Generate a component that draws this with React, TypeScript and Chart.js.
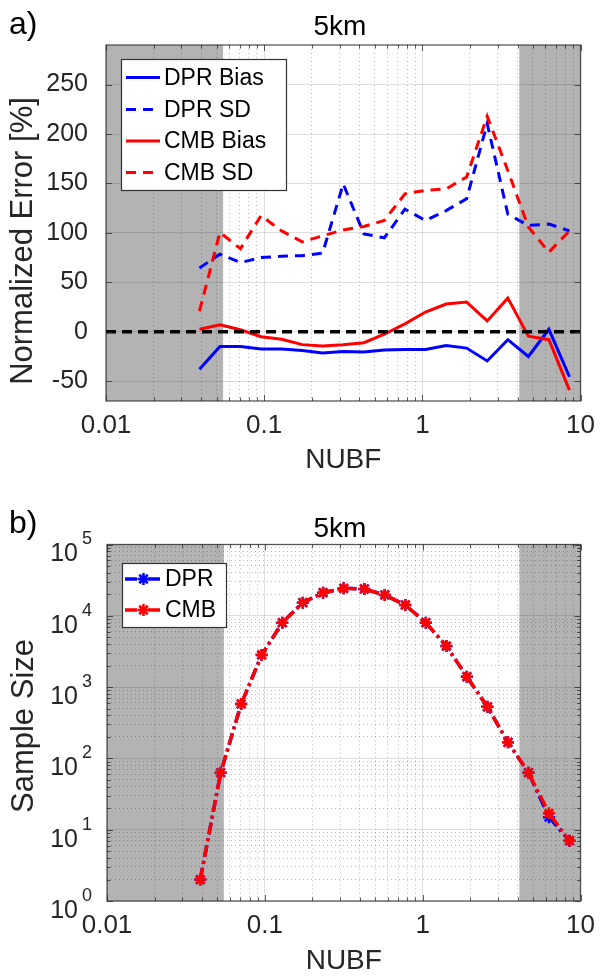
import React, { useEffect, useRef } from 'react';
import { Chart, registerables } from 'chart.js';

Chart.register(...registerables);

// ---------------- data ----------------
const nubf = [0.039, 0.0525, 0.0708, 0.0955, 0.129, 0.174, 0.234, 0.316, 0.427, 0.575, 0.776, 1.047, 1.413, 1.905, 2.57, 3.47, 4.68, 6.31, 8.51];

const dprBias = [-38, -15, -15, -17.5, -17.5, -19, -21.5, -20, -20.5, -18.5, -18, -18, -14, -16.5, -29.5, -8, -25, 2.5, -45.5];
const dprSD = [64.5, 78.5, 70, 75, 76.5, 77, 79.5, 149.5, 99, 95, 124, 112.5, 122.5, 134.5, 210.5, 119, 107.5, 109, 102];
const cmbBias = [2.5, 7, 2, -5, -7.5, -13, -14.5, -13, -11, -2.5, 8, 20, 28, 30, 11, 34, -4.5, -8, -59];
const cmbSD = [21, 100.5, 84, 117.5, 102, 91, 97, 103, 106.5, 112.5, 139.5, 143, 144.5, 156.5, 218, 163, 106, 80.5, 102];

const zeroLineX = [0.01, 10];
const zeroLineY = [0, 0];

const dprCount = [2, 63, 580, 2820, 8000, 15300, 21100, 24300, 23800, 19600, 14200, 8000, 3770, 1400, 530, 168, 63, 15, 7];
const cmbCount = [2, 63, 580, 2820, 8000, 15300, 21100, 24300, 23800, 19600, 14200, 8000, 3770, 1400, 530, 168, 63, 17, 7];

const shadeBounds = [0.055, 4.1];

const xTickValues = [0.01, 0.1, 1, 10];
const xTickLabels = ['0.01', '0.1', '1', '10'];
const minorMultipliers = [2, 3, 4, 5, 6, 7, 8, 9];

const yRangeA = [-70, 290];
const yTickValuesA = [-50, 0, 50, 100, 150, 200, 250];
const yTickLabelsA = ['-50', '0', '50', '100', '150', '200', '250'];

const yRangeB = [1, 100000];
const yTickValuesB = [1, 10, 100, 1000, 10000, 100000];
const yTickBaseB = '10';
const yTickExpB = ['0', '1', '2', '3', '4', '5'];

const seriesLabelsA = ['DPR Bias', 'DPR SD', 'CMB Bias', 'CMB SD'];
const seriesLabelsB = ['DPR', 'CMB'];

// ---------------- styles ----------------
const FONT = "'Liberation Sans', Arial, Helvetica, sans-serif";
const TXT = '#262626';
const SHADE = '#b3b3b3';
const MAJOR_GRID = 'rgba(38,38,38,0.15)';
const MINOR_GRID = 'rgba(38,38,38,0.32)';
const FRAME = 'rgba(38,38,38,0.75)';
const BLUE = '#0000ff';
const RED = '#ff0000';

const font = (size: number) => ({ family: FONT, size, weight: 'normal' as const });

function logTicks(decades: number[]) {
  const out: number[] = [];
  for (let i = 0; i < decades.length - 1; i++) {
    out.push(decades[i]);
    for (const m of minorMultipliers) out.push(decades[i] * m);
  }
  out.push(decades[decades.length - 1]);
  return out;
}

function isDecade(v: number) {
  const l = Math.log10(v);
  return Math.abs(l - Math.round(l)) < 1e-6;
}

function labelFrom(values: number[], labels: string[], v: number, log: boolean) {
  const i = values.findIndex((t) => (log ? Math.abs(Math.log10(t) - Math.log10(v)) < 1e-6 : Math.abs(t - v) < 1e-9));
  return i >= 0 ? labels[i] : '';
}

const gridColorLog = (ctx: any) => {
  const v = ctx.tick ? ctx.tick.value : undefined;
  return v !== undefined && isDecade(v) ? MAJOR_GRID : MINOR_GRID;
};
const gridDashLog = (ctx: any) => {
  const v = ctx.tick ? ctx.tick.value : undefined;
  return v !== undefined && !isDecade(v) ? [1, 3] : [];
};

// ---------------- plugins ----------------
function shadePlugin() {
  return {
    id: 'shade',
    beforeDraw(chart: any) {
      const { ctx, chartArea: a, scales } = chart;
      const xl = scales.x.getPixelForValue(shadeBounds[0]);
      const xr = scales.x.getPixelForValue(shadeBounds[1]);
      ctx.save();
      ctx.fillStyle = '#ffffff';
      ctx.fillRect(0, 0, chart.width, chart.height);
      ctx.fillStyle = SHADE;
      ctx.fillRect(a.left, a.top, xl - a.left, a.bottom - a.top);
      ctx.fillRect(xr, a.top, a.right - xr, a.bottom - a.top);
      ctx.restore();
    },
  };
}

function framePlugin(xTicks: number[], yTicks: number[], yLog: boolean) {
  return {
    id: 'frame',
    afterDatasetsDraw(chart: any) {
      const { ctx, chartArea: a, scales } = chart;
      ctx.save();
      ctx.strokeStyle = FRAME;
      ctx.lineWidth = 1;
      ctx.beginPath();
      for (const v of xTicks) {
        const px = Math.round(scales.x.getPixelForValue(v)) + 0.5;
        const len = isDecade(v) ? 6 : 3.5;
        ctx.moveTo(px, a.bottom);
        ctx.lineTo(px, a.bottom - len);
        ctx.moveTo(px, a.top);
        ctx.lineTo(px, a.top + len);
      }
      for (const v of yTicks) {
        const py = Math.round(scales.y.getPixelForValue(v)) + 0.5;
        const len = !yLog || isDecade(v) ? 6 : 3.5;
        ctx.moveTo(a.left, py);
        ctx.lineTo(a.left + len, py);
        ctx.moveTo(a.right, py);
        ctx.lineTo(a.right - len, py);
      }
      ctx.stroke();
      ctx.lineWidth = 1.3;
      ctx.strokeRect(a.left, a.top, a.right - a.left, a.bottom - a.top);
      ctx.restore();
    },
  };
}

function drawStar(ctx: CanvasRenderingContext2D, x: number, y: number, r: number) {
  ctx.beginPath();
  ctx.moveTo(x - r, y);
  ctx.lineTo(x + r, y);
  ctx.moveTo(x, y - r);
  ctx.lineTo(x, y + r);
  const d = r * Math.SQRT1_2;
  ctx.moveTo(x - d, y - d);
  ctx.lineTo(x + d, y + d);
  ctx.moveTo(x - d, y + d);
  ctx.lineTo(x + d, y - d);
  ctx.stroke();
}

function legendPlugin(box: { x: number; y: number; w: number; h: number }, rows: number[], lineX: [number, number], textX: number, size: number) {
  return {
    id: 'customLegend',
    afterDraw(chart: any) {
      const { ctx } = chart;
      ctx.save();
      ctx.fillStyle = '#ffffff';
      ctx.fillRect(box.x, box.y, box.w, box.h);
      ctx.strokeStyle = '#333333';
      ctx.lineWidth = 1.2;
      ctx.strokeRect(box.x + 0.5, box.y + 0.5, box.w, box.h);
      rows.forEach((ry, i) => {
        const ds = chart.data.datasets[i];
        ctx.strokeStyle = ds.borderColor;
        ctx.lineWidth = ds.borderWidth;
        ctx.setLineDash(ds.borderDash || []);
        ctx.beginPath();
        ctx.moveTo(lineX[0], ry);
        ctx.lineTo(lineX[1], ry);
        ctx.stroke();
        ctx.setLineDash([]);
        if (ds.pointRadius > 0) {
          ctx.lineWidth = ds.pointBorderWidth;
          drawStar(ctx, (lineX[0] + lineX[1]) / 2, ry, ds.pointRadius);
        }
        ctx.fillStyle = '#000000';
        ctx.font = `${size}px ${FONT}`;
        ctx.textAlign = 'left';
        ctx.textBaseline = 'middle';
        ctx.fillText(ds.label, textX, ry + 1);
      });
      ctx.restore();
    },
  };
}

function textPlugin(tag: string, tagY: number, title: string, titleX: number, titleY: number, yTitle: string, yTitleX: number, yTitleY: number) {
  return {
    id: 'texts',
    afterDraw(chart: any) {
      const { ctx } = chart;
      ctx.save();
      ctx.fillStyle = '#000000';
      ctx.textBaseline = 'middle';
      ctx.textAlign = 'left';
      ctx.font = `32px ${FONT}`;
      ctx.fillText(tag, 9, tagY);
      ctx.textAlign = 'center';
      ctx.font = `28px ${FONT}`;
      ctx.fillText(title, titleX, titleY);
      ctx.fillStyle = TXT;
      ctx.translate(yTitleX, yTitleY);
      ctx.rotate(-Math.PI / 2);
      ctx.font = `31px ${FONT}`;
      ctx.fillText(yTitle, 0, 0);
      ctx.restore();
    },
  };
}

function powerTickPlugin() {
  return {
    id: 'powerTicks',
    afterDraw(chart: any) {
      const { ctx, scales } = chart;
      ctx.save();
      ctx.fillStyle = TXT;
      ctx.textBaseline = 'middle';
      yTickValuesB.forEach((v, i) => {
        const py = scales.y.getPixelForValue(v);
        ctx.font = `25px ${FONT}`;
        ctx.textAlign = 'right';
        ctx.fillText(yTickBaseB, 78, py + 10);
        ctx.font = `18px ${FONT}`;
        ctx.textAlign = 'left';
        ctx.fillText(yTickExpB[i], 82, py - 5);
      });
      ctx.restore();
    },
  };
}

// ---------------- charts ----------------
const xAllTicks = logTicks(xTickValues);
const yAllTicksB = logTicks(yTickValuesB);

function makeChartA(canvas: HTMLCanvasElement) {
  const pts = (ys: number[]) => nubf.map((x, i) => ({ x, y: ys[i] }));
  return new Chart(canvas, {
    type: 'line',
    data: {
      datasets: [
        { label: seriesLabelsA[0], data: pts(dprBias), borderColor: BLUE, borderWidth: 3, pointRadius: 0, order: 4 },
        { label: seriesLabelsA[1], data: pts(dprSD), borderColor: BLUE, borderWidth: 3, borderDash: [10, 7], pointRadius: 0, order: 3 },
        { label: seriesLabelsA[2], data: pts(cmbBias), borderColor: RED, borderWidth: 3, pointRadius: 0, order: 2 },
        { label: seriesLabelsA[3], data: pts(cmbSD), borderColor: RED, borderWidth: 3, borderDash: [10, 7], pointRadius: 0, order: 1 },
        { label: 'zero', data: zeroLineX.map((x, i) => ({ x, y: zeroLineY[i] })), borderColor: '#000000', borderWidth: 3.5, borderDash: [10, 6], pointRadius: 0, order: 0 },
      ],
    } as any,
    options: {
      animation: false,
      responsive: false,
      maintainAspectRatio: false,
      events: [],
      layout: { padding: { top: 45, right: 19, left: 0, bottom: 0 } },
      plugins: { legend: { display: false }, tooltip: { enabled: false }, title: { display: false } },
      scales: {
        x: {
          type: 'logarithmic',
          min: 0.01,
          max: 10,
          afterBuildTicks: (s: any) => { s.ticks = xAllTicks.map((v) => ({ value: v })); },
          afterFit: (s: any) => { s.height = 88; },
          ticks: { autoSkip: false, maxRotation: 0, minRotation: 0, padding: 9, color: TXT, font: font(26), callback: (v: any) => labelFrom(xTickValues, xTickLabels, Number(v), true) },
          grid: { drawTicks: false, color: gridColorLog, lineWidth: 1 },
          border: { display: false, dash: gridDashLog },
          title: { display: true, text: 'NUBF', color: TXT, font: font(28), padding: { top: 0, bottom: 12 } },
        },
        y: {
          type: 'linear',
          min: yRangeA[0],
          max: yRangeA[1],
          afterBuildTicks: (s: any) => { s.ticks = yTickValuesA.map((v) => ({ value: v })); },
          afterFit: (s: any) => { s.width = 106; },
          ticks: { padding: 18, color: TXT, font: font(25), callback: (v: any) => labelFrom(yTickValuesA, yTickLabelsA, Number(v), false) },
          grid: { drawTicks: false, color: MAJOR_GRID, lineWidth: 1 },
          border: { display: false },
        },
      },
    } as any,
    plugins: [
      shadePlugin(),
      framePlugin(xAllTicks, yTickValuesA, false),
      legendPlugin({ x: 121, y: 59, w: 165, h: 131 }, [77.5, 109.5, 141, 172.5], [126, 160], 164, 23),
      textPlugin('a)', 25, '5km', 340, 27, 'Normalized Error [%]', 23, 241),
    ] as any,
  });
}

function makeChartB(canvas: HTMLCanvasElement) {
  const pts = (ys: number[]) => nubf.map((x, i) => ({ x, y: ys[i] }));
  const common = { borderWidth: 3.5, borderDash: [12, 4, 3, 4], pointStyle: 'star', pointRadius: 6, pointBorderWidth: 2.5 };
  return new Chart(canvas, {
    type: 'line',
    data: {
      datasets: [
        { label: seriesLabelsB[0], data: pts(dprCount), borderColor: BLUE, pointBorderColor: BLUE, pointBackgroundColor: BLUE, order: 2, ...common },
        { label: seriesLabelsB[1], data: pts(cmbCount), borderColor: RED, pointBorderColor: RED, pointBackgroundColor: RED, order: 1, ...common },
      ],
    } as any,
    options: {
      animation: false,
      responsive: false,
      maintainAspectRatio: false,
      events: [],
      layout: { padding: { top: 55.5, right: 15, left: 0, bottom: 0 } },
      plugins: { legend: { display: false }, tooltip: { enabled: false }, title: { display: false } },
      scales: {
        x: {
          type: 'logarithmic',
          min: 0.01,
          max: 10,
          afterBuildTicks: (s: any) => { s.ticks = xAllTicks.map((v) => ({ value: v })); },
          afterFit: (s: any) => { s.height = 77; },
          ticks: { autoSkip: false, maxRotation: 0, minRotation: 0, padding: 9, color: TXT, font: font(26), callback: (v: any) => labelFrom(xTickValues, xTickLabels, Number(v), true) },
          grid: { drawTicks: false, color: gridColorLog, lineWidth: 1 },
          border: { display: false, dash: gridDashLog },
          title: { display: true, text: 'NUBF', color: TXT, font: font(28), padding: { top: 0, bottom: 0 } },
        },
        y: {
          type: 'logarithmic',
          min: yRangeB[0],
          max: yRangeB[1],
          afterBuildTicks: (s: any) => { s.ticks = yAllTicksB.map((v) => ({ value: v })); },
          afterFit: (s: any) => { s.width = 107; },
          ticks: { display: false },
          grid: { drawTicks: false, color: gridColorLog, lineWidth: 1 },
          border: { display: false, dash: gridDashLog },
        },
      },
    } as any,
    plugins: [
      shadePlugin(),
      framePlugin(xAllTicks, yAllTicksB, true),
      powerTickPlugin(),
      legendPlugin({ x: 122, y: 74, w: 104, h: 64 }, [90, 121], [125, 162], 165, 23),
      textPlugin('b)', 35, '5km', 340, 40, 'Sample Size', 24, 237),
    ] as any,
  });
}

export default function App() {
  const refA = useRef<HTMLCanvasElement>(null);
  const refB = useRef<HTMLCanvasElement>(null);
  useEffect(() => {
    const a = makeChartA(refA.current as HTMLCanvasElement);
    const b = makeChartB(refB.current as HTMLCanvasElement);
    return () => {
      a.destroy();
      b.destroy();
    };
  }, []);
  return (
    <div style={{ position: 'absolute', left: 0, top: 0, width: 604, height: 978, background: '#ffffff' }}>
      <canvas ref={refA} width={604} height={489} style={{ display: 'block', width: 604, height: 489 }} />
      <canvas ref={refB} width={604} height={489} style={{ display: 'block', width: 604, height: 489 }} />
    </div>
  );
}
